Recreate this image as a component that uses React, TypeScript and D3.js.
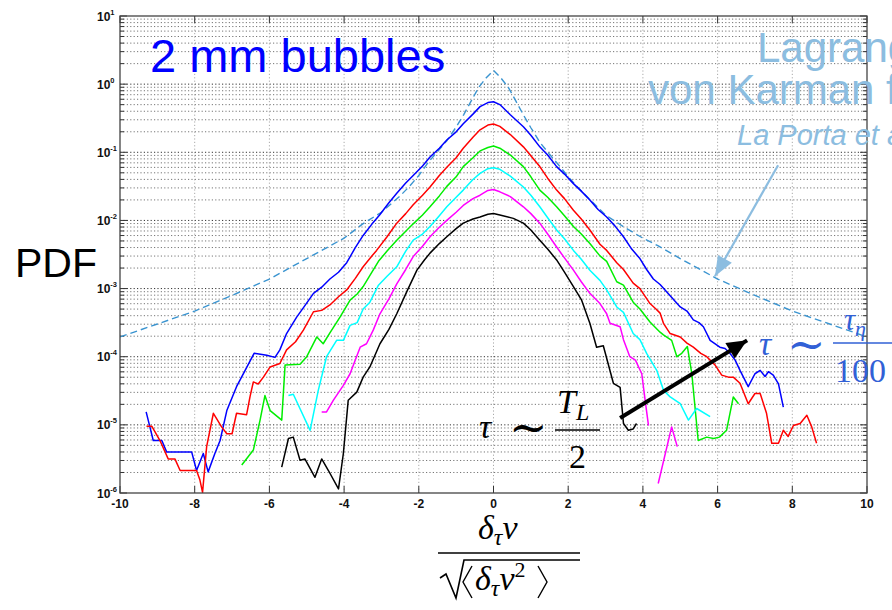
import React from 'react';
import * as d3 from 'd3';

const W = 892;
const H = 610;

// axis ticks
const xTicks = [-10, -8, -6, -4, -2, 0, 2, 4, 6, 8, 10];
const yDecades = [1, 0, -1, -2, -3, -4, -5, -6];

// series: [x, log10(PDF)]
const blueSeries: [number, number][] = [
  [-9.3, -4.81], [-9.2, -5.03], [-9.11, -5.23], [-8.88, -5.23], [-8.75, -5.4], [-8.08, -5.4], [-7.95, -5.67],
  [-7.77, -5.42], [-7.64, -5.69], [-7.46, -5.42], [-7.32, -5.23], [-7.14, -4.79], [-6.88, -4.44], [-6.65, -4.2],
  [-6.41, -3.95], [-6.07, -3.98], [-5.85, -4.01], [-5.72, -3.9], [-5.54, -3.66], [-5.27, -3.42], [-5.05, -3.25],
  [-4.82, -3.07], [-4.6, -2.98], [-4.38, -2.86], [-4.15, -2.76], [-3.93, -2.62], [-3.7, -2.4], [-3.49, -2.22],
  [-3.25, -2.05], [-3.05, -1.92], [-2.8, -1.74], [-2.59, -1.6], [-2.35, -1.45], [-2.15, -1.34], [-1.9, -1.2],
  [-1.7, -1.07], [-1.45, -0.94], [-1.25, -0.82], [-1.0, -0.7], [-0.81, -0.58], [-0.55, -0.44], [-0.36, -0.33],
  [-0.15, -0.27], [0, -0.258], [0.17, -0.3], [0.45, -0.45], [0.8, -0.625], [1.0, -0.75], [1.24, -0.92],
  [1.45, -1.04], [1.69, -1.21], [1.9, -1.32], [2.14, -1.46], [2.35, -1.57], [2.58, -1.7], [2.8, -1.84],
  [3.03, -1.95], [3.25, -2.08], [3.48, -2.24], [3.7, -2.42], [3.92, -2.56], [4.1, -2.72], [4.28, -2.86],
  [4.46, -2.94], [4.64, -3.05], [4.82, -3.16], [5.0, -3.27], [5.18, -3.33], [5.35, -3.46], [5.5, -3.5],
  [5.62, -3.56], [5.8, -3.76], [6.06, -3.86], [6.2, -3.88], [6.33, -3.95], [6.47, -4.05], [6.6, -4.2],
  [6.82, -4.44], [7.0, -4.25], [7.14, -4.2], [7.27, -4.29], [7.36, -4.22], [7.49, -4.27], [7.63, -4.4], [7.76, -4.74],
];

const redSeries: [number, number][] = [
  [-9.29, -5.02], [-9.15, -5.02], [-8.93, -5.23], [-8.71, -5.5], [-8.53, -5.5], [-8.39, -5.67], [-7.95, -5.67],
  [-7.86, -5.81], [-7.79, -5.99], [-7.68, -5.32], [-7.5, -4.83], [-7.28, -5.03], [-7.14, -5.13], [-7.0, -5.13],
  [-6.88, -4.83], [-6.61, -4.85], [-6.52, -4.59], [-6.43, -4.37], [-6.3, -4.4], [-6.16, -4.3], [-5.98, -4.15],
  [-5.72, -4.1], [-5.54, -3.9], [-5.3, -3.78], [-5.09, -3.61], [-4.82, -3.34], [-4.6, -3.32], [-4.38, -3.24],
  [-4.15, -3.12], [-3.93, -3.02], [-3.7, -2.85], [-3.49, -2.68], [-3.3, -2.55], [-3.13, -2.44], [-2.85, -2.24],
  [-2.59, -2.04], [-2.35, -1.9], [-2.15, -1.77], [-1.9, -1.63], [-1.7, -1.51], [-1.45, -1.34], [-1.25, -1.22],
  [-1.0, -1.08], [-0.81, -0.94], [-0.55, -0.78], [-0.36, -0.67], [-0.15, -0.6], [0, -0.586], [0.17, -0.62],
  [0.45, -0.74], [0.8, -0.92], [1.0, -1.05], [1.24, -1.21], [1.45, -1.38], [1.69, -1.555], [1.9, -1.68],
  [2.14, -1.85], [2.35, -1.98], [2.58, -2.14], [2.85, -2.35], [3.03, -2.44], [3.3, -2.62], [3.48, -2.72],
  [3.74, -2.92], [3.92, -3.0], [4.19, -3.22], [4.35, -3.3], [4.46, -3.36], [4.55, -3.51], [4.73, -3.66],
  [5.0, -3.71], [5.18, -3.8], [5.35, -3.86], [5.55, -3.95], [5.71, -4.0], [5.93, -4.12], [6.11, -4.27],
  [6.29, -4.3], [6.42, -4.3], [6.6, -4.39], [6.82, -4.69], [7.0, -4.54], [7.14, -4.54], [7.31, -4.83],
  [7.45, -5.27], [7.63, -5.27], [7.76, -5.08], [7.89, -5.17], [8.03, -5.01], [8.21, -4.98], [8.39, -4.86],
  [8.52, -5.03], [8.65, -5.27],
];

const greenSeries: [number, number][] = [
  [-6.74, -5.59], [-6.43, -5.37], [-6.25, -4.93], [-6.12, -4.57], [-5.98, -4.79], [-5.67, -4.93], [-5.58, -4.12],
  [-5.18, -4.11], [-5.0, -4.0], [-4.73, -3.71], [-4.56, -3.81], [-4.38, -3.65], [-4.11, -3.42], [-3.84, -3.17],
  [-3.65, -3.08], [-3.49, -2.97], [-3.3, -2.8], [-3.08, -2.6], [-2.85, -2.45], [-2.59, -2.29], [-2.35, -2.16],
  [-2.15, -2.05], [-1.9, -1.92], [-1.7, -1.8], [-1.45, -1.64], [-1.25, -1.5], [-1.0, -1.36], [-0.81, -1.21],
  [-0.55, -1.08], [-0.36, -0.98], [-0.15, -0.93], [0, -0.909], [0.17, -0.94], [0.45, -1.04], [0.8, -1.21],
  [1.0, -1.36], [1.24, -1.555], [1.45, -1.66], [1.69, -1.8], [1.9, -1.93], [2.14, -2.09], [2.35, -2.2],
  [2.58, -2.34], [2.85, -2.52], [3.03, -2.6], [3.3, -2.9], [3.48, -2.95], [3.74, -3.2], [3.92, -3.3],
  [4.19, -3.49], [4.46, -3.64], [4.55, -3.68], [4.77, -3.76], [4.91, -4.0], [5.04, -3.95], [5.19, -3.85],
  [5.31, -4.25], [5.48, -5.23], [5.71, -5.18], [5.89, -5.2], [6.05, -5.18], [6.24, -5.08], [6.42, -4.59], [6.56, -4.69],
];

const cyanSeries: [number, number][] = [
  [-5.49, -4.57], [-5.36, -4.55], [-4.91, -5.08], [-4.69, -4.49], [-4.47, -4.0], [-4.2, -3.76], [-4.02, -3.76],
  [-3.84, -3.54], [-3.65, -3.5], [-3.49, -3.3], [-3.31, -3.2], [-3.08, -2.95], [-2.85, -2.82], [-2.59, -2.68],
  [-2.35, -2.45], [-2.15, -2.29], [-1.9, -2.2], [-1.7, -2.09], [-1.45, -1.93], [-1.25, -1.8], [-1.0, -1.66],
  [-0.81, -1.555], [-0.55, -1.4], [-0.36, -1.31], [-0.15, -1.24], [0, -1.228], [0.17, -1.25], [0.45, -1.35],
  [0.8, -1.51], [1.0, -1.63], [1.24, -1.8], [1.45, -1.96], [1.69, -2.14], [1.9, -2.27], [2.14, -2.44],
  [2.35, -2.57], [2.58, -2.73], [2.85, -2.88], [3.03, -3.02], [3.3, -3.27], [3.48, -3.35], [3.74, -3.66],
  [3.92, -3.75], [4.1, -3.95], [4.37, -4.2], [4.55, -4.49], [4.73, -4.59], [5.0, -4.69], [5.22, -4.93],
  [5.44, -4.76], [5.8, -4.88],
];

const magentaSeries: [number, number][] = [
  [-4.6, -4.81], [-4.47, -4.81], [-4.29, -4.64], [-4.02, -4.42], [-3.84, -4.25], [-3.57, -3.86], [-3.4, -3.81],
  [-3.22, -3.61], [-3.04, -3.37], [-2.8, -3.15], [-2.59, -2.93], [-2.35, -2.72], [-2.15, -2.53], [-1.9, -2.38],
  [-1.7, -2.24], [-1.45, -2.1], [-1.25, -2.0], [-1.0, -1.88], [-0.81, -1.78], [-0.55, -1.68], [-0.36, -1.63],
  [-0.15, -1.56], [0, -1.545], [0.17, -1.58], [0.45, -1.65], [0.8, -1.8], [1.0, -1.9], [1.24, -2.04],
  [1.45, -2.2], [1.69, -2.39], [1.9, -2.55], [2.14, -2.73], [2.35, -2.9], [2.58, -3.07], [2.85, -3.22],
  [3.03, -3.37], [3.12, -3.51], [3.39, -3.56], [3.48, -3.75], [3.65, -4.0], [3.8, -4.05], [3.97, -4.25],
  [4.06, -4.64], [4.15, -5.01], [4.28, NaN], [4.41, -5.86], [4.77, -5.03], [4.92, -5.32],
];

const blackSeries: [number, number][] = [
  [-5.67, -5.62], [-5.49, -5.2], [-5.36, -5.18], [-5.18, -5.52], [-5.05, -5.5], [-4.78, -5.77], [-4.6, -5.5],
  [-4.42, -5.67], [-4.15, -5.94], [-4.02, -5.42], [-3.89, -4.64], [-3.66, -4.52], [-3.49, -4.3], [-3.31, -4.15],
  [-3.04, -3.81], [-2.8, -3.6], [-2.59, -3.37], [-2.3, -3.02], [-2.05, -2.73], [-1.85, -2.58], [-1.7, -2.48],
  [-1.45, -2.34], [-1.25, -2.24], [-1.0, -2.12], [-0.81, -2.04], [-0.55, -1.98], [-0.36, -1.95], [-0.15, -1.91],
  [0, -1.897], [0.17, -1.92], [0.53, -1.97], [0.8, -2.04], [1.0, -2.14], [1.24, -2.29], [1.45, -2.42],
  [1.69, -2.58], [1.9, -2.76], [2.14, -2.97], [2.36, -3.17], [2.58, -3.51], [2.76, -3.86], [2.94, -3.84],
  [3.21, -4.39], [3.39, -4.45], [3.48, -4.98], [3.61, -5.08], [3.74, -5.06], [3.83, -4.98],
];

// von Karman fit (La Porta et al.), [x, log10(PDF)]
const vonKarman: [number, number][] = [
  [-10, -3.71], [-9, -3.52], [-8, -3.33], [-7, -3.1], [-6, -2.86], [-5, -2.56], [-4.4, -2.38], [-4, -2.26],
  [-3.5, -2.05], [-3, -1.88], [-2.5, -1.64], [-2.25, -1.5], [-2, -1.34], [-1.75, -1.15], [-1.5, -0.99],
  [-1.25, -0.83], [-1, -0.63], [-0.8, -0.45], [-0.6, -0.25], [-0.4, -0.05], [-0.2, 0.09], [0, 0.2],
  [0.2, 0.09], [0.4, -0.05], [0.6, -0.25], [0.8, -0.45], [1, -0.64], [1.25, -0.86], [1.5, -1.03],
  [1.75, -1.19], [2, -1.36], [2.25, -1.51], [2.5, -1.65], [3, -1.92], [3.5, -2.1], [4, -2.26], [4.4, -2.37],
  [5, -2.56], [6, -2.86], [7, -3.1], [8, -3.33], [9, -3.52], [10, -3.71],
];

const seriesList = [
  { name: 'blue', color: '#0000ff', data: blueSeries },
  { name: 'red', color: '#ff0000', data: redSeries },
  { name: 'green', color: '#00ee00', data: greenSeries },
  { name: 'cyan', color: '#00ffff', data: cyanSeries },
  { name: 'magenta', color: '#ff00ff', data: magentaSeries },
  { name: 'black', color: '#000000', data: blackSeries },
];

// annotation arrows in data coords [x, log10 PDF]
const blackArrow: [number, number][] = [[3.39, -4.9], [6.79, -3.76]];
const fitArrow: [number, number][] = [[7.62, -1.19], [5.93, -2.82]];

function arrowHead(x1: number, y1: number, x2: number, y2: number, len: number, half: number) {
  const a = Math.atan2(y2 - y1, x2 - x1);
  const bx = x2 - len * Math.cos(a);
  const by = y2 - len * Math.sin(a);
  const px = -Math.sin(a) * half;
  const py = Math.cos(a) * half;
  return `M${x2},${y2}L${bx + px},${by + py}L${bx - px},${by - py}Z`;
}

export default function App() {
  const x = d3.scaleLinear().domain([-10, 10]).range([120, 867]);
  const y = d3.scaleLog().domain([1e-6, 10]).range([493, 16]);
  const py = (l: number) => y(Math.pow(10, l));
  const line = d3
    .line<[number, number]>()
    .defined((d) => !isNaN(d[1]))
    .x((d) => x(d[0]))
    .y((d) => py(d[1]));

  const minor: number[] = [];
  for (let d = -6; d < 1; d++) for (let k = 2; k <= 9; k++) minor.push(k * Math.pow(10, d));

  const [ba0, ba1] = blackArrow.map((p) => [x(p[0]), py(p[1])]);
  const [fa0, fa1] = fitArrow.map((p) => [x(p[0]), py(p[1])]);

  const sans = 'Liberation Sans, Arial, Helvetica, sans-serif';
  const serif = 'Liberation Serif, Times New Roman, serif';
  const lightBlue = '#8cbde0';
  const annBlue = '#3160d6';

  return (
    <svg width={W} height={H} style={{ position: 'absolute', left: 0, top: 0, background: '#fff' }}>
      <defs>
        <clipPath id="plotclip">
          <rect x={120} y={16} width={747} height={477} />
        </clipPath>
      </defs>
      {/* grid */}
      <g>
        {minor.map((v, i) => (
          <line key={'m' + i} x1={120} x2={867} y1={y(v)} y2={y(v)} stroke="#666" strokeWidth={0.9} strokeDasharray="1.2,2.2" />
        ))}
        {yDecades.slice(1, -1).map((e) => (
          <line key={'M' + e} x1={120} x2={867} y1={py(e)} y2={py(e)} stroke="#333" strokeWidth={1} strokeDasharray="1.2,2.2" />
        ))}
        {xTicks.slice(1, -1).map((t) => (
          <line key={'gx' + t} x1={x(t)} x2={x(t)} y1={16} y2={493} stroke="#aaa" strokeWidth={1} strokeDasharray="1.2,2.2" />
        ))}
      </g>
      {/* ticks */}
      <g stroke="#333" strokeWidth={1}>
        {minor.map((v, i) => (
          <g key={'mt' + i}>
            <line x1={120} x2={124} y1={y(v)} y2={y(v)} />
            <line x1={867} x2={863} y1={y(v)} y2={y(v)} />
          </g>
        ))}
        {yDecades.map((e) => (
          <g key={'Mt' + e}>
            <line x1={120} x2={127} y1={py(e)} y2={py(e)} />
            <line x1={867} x2={860} y1={py(e)} y2={py(e)} />
          </g>
        ))}
        {xTicks.map((t) => (
          <g key={'xt' + t}>
            <line x1={x(t)} x2={x(t)} y1={493} y2={486} />
            <line x1={x(t)} x2={x(t)} y1={16} y2={23} />
          </g>
        ))}
      </g>
      {/* fit curve */}
      <path d={line(vonKarman) || ''} fill="none" stroke="#3a94d0" strokeWidth={1.4} strokeDasharray="7,4" clipPath="url(#plotclip)" />
      {/* data */}
      {seriesList.map((s) => (
        <path key={s.name} d={line(s.data) || ''} fill="none" stroke={s.color} strokeWidth={1.5} strokeLinejoin="round" clipPath="url(#plotclip)" />
      ))}
      {/* frame */}
      <rect x={120} y={16} width={747} height={477} fill="none" stroke="#444" strokeWidth={1.3} />
      {/* tick labels */}
      <g fontFamily={sans} fontWeight="bold" fill="#111">
        {yDecades.map((e) => (
          <text key={'yl' + e} x={97} y={py(e) + 4.5} fontSize={12}>
            10
            <tspan dy={-6} fontSize={7.5}>{e < 0 ? '-' + Math.abs(e) : String(e)}</tspan>
          </text>
        ))}
        {xTicks.map((t) => (
          <text key={'xl' + t} x={x(t)} y={508} fontSize={12} textAnchor="middle">
            {t < 0 ? '-' + Math.abs(t) : String(t)}
          </text>
        ))}
      </g>
      {/* titles */}
      <text x={150} y={72} fontFamily={sans} fontSize={47} fill="#0000ff">2 mm bubbles</text>
      <text x={15} y={277} fontFamily={sans} fontSize={41} fill="#000">PDF</text>
      <text x={757} y={62} fontFamily={sans} fontSize={42} fill={lightBlue}>Lagrangian</text>
      <text x={648} y={104} fontFamily={sans} fontSize={42} fill={lightBlue}>von Karman fit</text>
      <text x={737} y={145} fontFamily={sans} fontSize={29} fontStyle="italic" fill={lightBlue}>La Porta et al.</text>
      {/* fit arrow */}
      <line x1={fa0[0]} y1={fa0[1]} x2={fa1[0]} y2={fa1[1]} stroke={lightBlue} strokeWidth={2.2} />
      <path d={arrowHead(fa0[0], fa0[1], fa1[0], fa1[1], 20, 8)} fill={lightBlue} />
      {/* black arrow */}
      <line x1={ba0[0]} y1={ba0[1]} x2={ba1[0]} y2={ba1[1]} stroke="#000" strokeWidth={4} />
      <path d={arrowHead(ba0[0], ba0[1], ba1[0], ba1[1], 20, 9)} fill="#000" />
      {/* tau ~ T_L / 2 */}
      <g fontFamily={serif} fill="#000">
        <text x={479} y={438} fontSize={34} fontStyle="italic">τ</text>
        <text x={509} y={443} fontSize={46} fontFamily="DejaVu Serif, serif">∼</text>
        <text x={557} y={413} fontSize={34} fontStyle="italic">
          T<tspan fontSize={24} dy={7}>L</tspan>
        </text>
        <line x1={555} x2={600} y1={430} y2={430} stroke="#000" strokeWidth={1.6} />
        <text x={569} y={468} fontSize={34}>2</text>
      </g>
      {/* tau ~ tau_eta / 100 */}
      <g fontFamily={serif} fill={annBlue}>
        <text x={759} y={355} fontSize={34} fontStyle="italic">τ</text>
        <text x={787} y={360} fontSize={46} fontFamily="DejaVu Serif, serif">∼</text>
        <text x={844} y={330} fontSize={31} fontStyle="italic">
          τ<tspan fontSize={22} dy={6}>η</tspan>
        </text>
        <line x1={833} x2={892} y1={343} y2={343} stroke={annBlue} strokeWidth={1.6} />
        <text x={835} y={382} fontSize={34}>100</text>
      </g>
      {/* x label */}
      <g fontFamily={serif} fill="#000">
        <text x={478} y={539} fontSize={34} fontStyle="italic">
          δ<tspan fontSize={24} dy={6}>τ</tspan>
          <tspan dy={-6}>v</tspan>
        </text>
        <line x1={438} x2={580} y1={553} y2={553} stroke="#000" strokeWidth={1.6} />
        <path d="M440,578L446,574L456,598L464,560L580,560" fill="none" stroke="#000" strokeWidth={1.6} />
        <path d="M472,566L463,582L472,598" fill="none" stroke="#000" strokeWidth={1.4} />
        <path d="M538,566L547,582L538,598" fill="none" stroke="#000" strokeWidth={1.4} />
        <text x={475} y={590} fontSize={34} fontStyle="italic">
          δ<tspan fontSize={24} dy={6}>τ</tspan>
          <tspan dy={-6}>v</tspan>
          <tspan fontSize={22} dy={-13} fontStyle="normal">2</tspan>
        </text>
      </g>
    </svg>
  );
}
